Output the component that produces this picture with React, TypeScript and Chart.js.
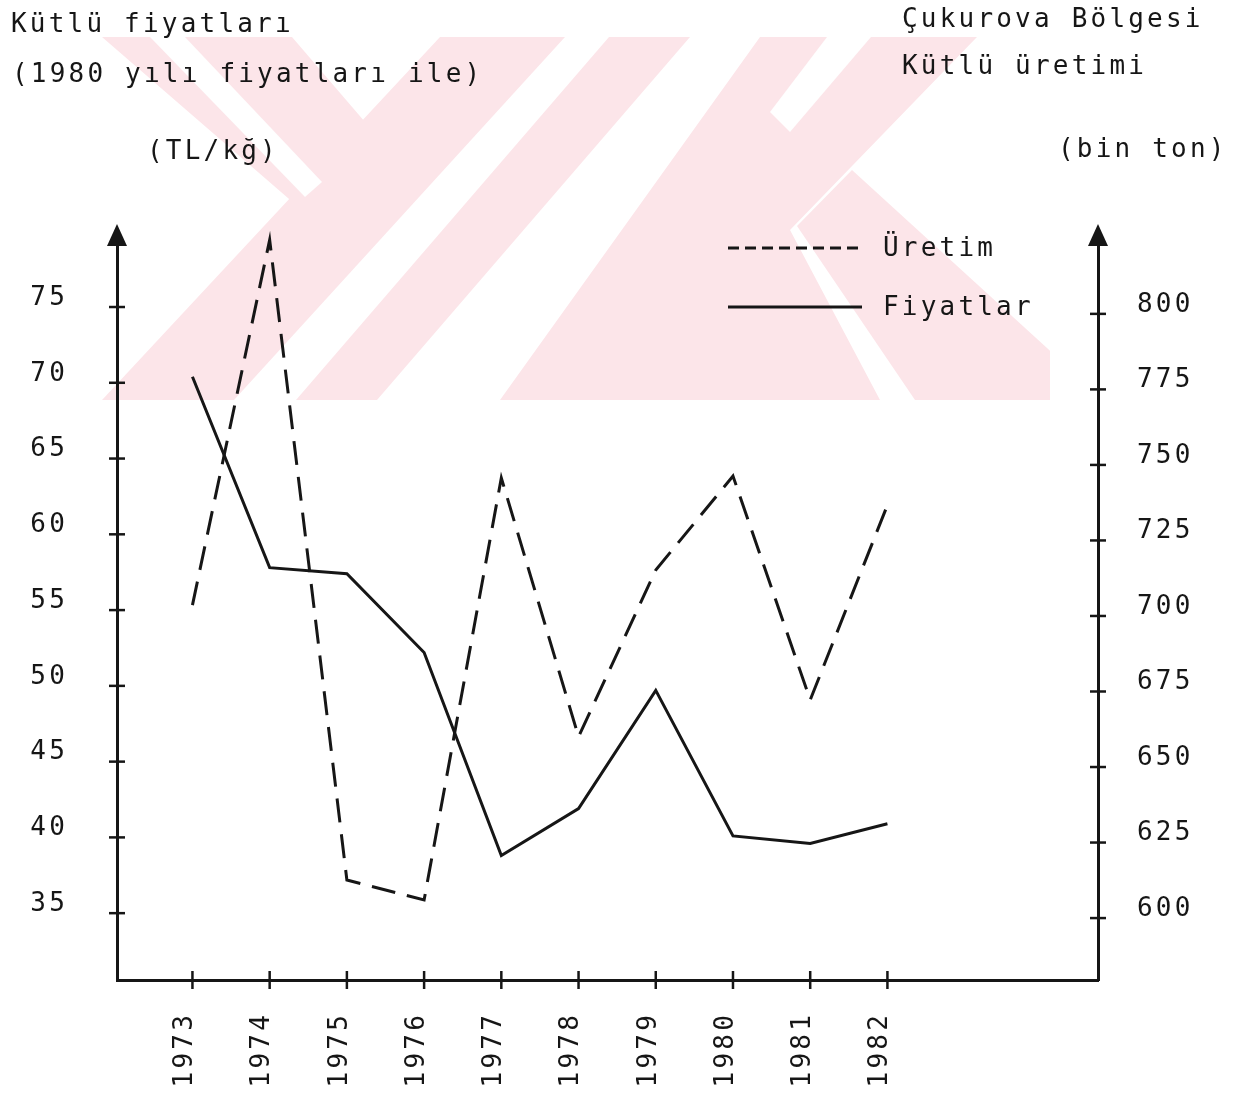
import React, { useEffect, useRef } from "react";
import { Chart, registerables } from "chart.js";

Chart.register(...registerables);

// ---- data ----
const years = [1973, 1974, 1975, 1976, 1977, 1978, 1979, 1980, 1981, 1982];
const fiyatlar = [70.4, 57.8, 57.4, 52.2, 38.8, 41.9, 49.7, 40.1, 39.6, 40.9]; // TL/kğ (left axis)
const uretim = [703.6, 824.5, 612.6, 606.0, 745.7, 660.0, 715.2, 746.3, 672.2, 736.7]; // bin ton (right axis)
const leftTicks = [35, 40, 45, 50, 55, 60, 65, 70, 75];
const rightTicks = [600, 625, 650, 675, 700, 725, 750, 775, 800];
const leftTitle = ["Kütlü fiyatları", "(1980 yılı fiyatları ile)", "(TL/kğ)"];
const rightTitle = ["Çukurova Bölgesi", "Kütlü üretimi", "(bin ton)"];
const seriesLabels = ["Üretim", "Fiyatlar"];

const INK = "#161616";
const FAMILY = "'DejaVu Sans Mono', 'Liberation Mono', monospace";
const FSIZE = 26;
const SPACING = "3.2px";

const watermark = {
  id: "watermark",
  beforeDraw(chart: any) {
    const ctx = chart.ctx;
    ctx.save();
    ctx.beginPath();
    ctx.rect(102, 37, 948, 363);
    ctx.clip();
    const fill = (p: number[][], color: string) => {
      ctx.fillStyle = color;
      ctx.beginPath();
      p.forEach(([x, y], i) => (i ? ctx.lineTo(x, y) : ctx.moveTo(x, y)));
      ctx.closePath();
      ctx.fill();
    };
    const PINK = "#fce5e9";
    const WHITE = "#ffffff";
    fill([[102, 37], [292, 37], [365, 122], [296, 205]], PINK);
    fill([[102, 400], [234, 400], [565, 37], [440, 37]], PINK);
    fill([[296, 400], [377, 400], [690, 37], [609, 37]], PINK);
    fill([[500, 400], [880, 400], [790, 230], [977, 37], [760, 37]], PINK);
    fill([[797, 226], [852, 170], [1060, 360], [1060, 400], [915, 400]], PINK);
    fill([[150, 37], [185, 37], [322, 182], [305, 197]], WHITE);
    fill([[827, 37], [871, 37], [790, 132], [770, 112]], WHITE);
    ctx.restore();
    ctx.letterSpacing = SPACING;
  },
};

const decorations = {
  id: "decorations",
  afterDraw(chart: any) {
    const { ctx, scales, chartArea } = chart;
    ctx.save();
    ctx.strokeStyle = INK;
    ctx.fillStyle = INK;
    ctx.lineWidth = 2.5;
    ctx.setLineDash([]);
    const line = (x1: number, y1: number, x2: number, y2: number) => {
      ctx.beginPath();
      ctx.moveTo(x1, y1);
      ctx.lineTo(x2, y2);
      ctx.stroke();
    };
    // crossing tick marks
    for (const id of ["yL", "yR"]) {
      const s = scales[id];
      const x = id === "yL" ? chartArea.left : chartArea.right;
      s.ticks.forEach((t: any) => {
        const y = s.getPixelForValue(t.value);
        line(x - 8, y, x + 8, y);
      });
    }
    const sx = scales.x;
    sx.ticks.forEach((t: any) => {
      const x = sx.getPixelForValue(t.value);
      line(x, chartArea.bottom - 9, x, chartArea.bottom + 9);
    });
    // arrows on top of both y axes
    for (const x of [chartArea.left, chartArea.right]) {
      ctx.beginPath();
      ctx.moveTo(x, chartArea.top - 8);
      ctx.lineTo(x - 10, chartArea.top + 14);
      ctx.lineTo(x + 10, chartArea.top + 14);
      ctx.closePath();
      ctx.fill();
    }
    // legend
    const legendY = [248, 307];
    const baseY = [256, 315];
    chart.data.datasets.forEach((ds: any, i: number) => {
      ctx.lineWidth = 3;
      ctx.setLineDash(ds.borderDash && ds.borderDash.length ? [11, 6] : []);
      line(728, legendY[i], 862, legendY[i]);
      ctx.setLineDash([]);
      ctx.font = `${FSIZE}px ${FAMILY}`;
      ctx.letterSpacing = SPACING;
      ctx.textAlign = "left";
      ctx.textBaseline = "alphabetic";
      ctx.fillText(ds.label, 883, baseY[i]);
    });
    // titles
    ctx.font = `${FSIZE}px ${FAMILY}`;
    ctx.letterSpacing = SPACING;
    ctx.textAlign = "left";
    ctx.textBaseline = "alphabetic";
    const lx = [11, 12, 147];
    const ly = [32, 82, 159];
    leftTitle.forEach((t, i) => ctx.fillText(t, lx[i], ly[i]));
    const rx = [902, 902, 1058];
    const ry = [27, 74, 157];
    rightTitle.forEach((t, i) => ctx.fillText(t, rx[i], ry[i]));
    ctx.restore();
  },
};

export default function App() {
  const ref = useRef<HTMLCanvasElement | null>(null);

  useEffect(() => {
    if (!ref.current) return;
    const font = { family: FAMILY, size: FSIZE };
    const chart = new Chart(ref.current, {
      type: "line",
      data: {
        datasets: [
          {
            label: seriesLabels[0],
            data: years.map((y, i) => ({ x: y, y: uretim[i] })),
            yAxisID: "yR",
            borderColor: INK,
            borderWidth: 3,
            borderDash: [24, 12],
            pointRadius: 0,
            tension: 0,
            clip: 12,
          },
          {
            label: seriesLabels[1],
            data: years.map((y, i) => ({ x: y, y: fiyatlar[i] })),
            yAxisID: "yL",
            borderColor: INK,
            borderWidth: 3,
            pointRadius: 0,
            tension: 0,
            clip: 12,
          },
        ],
      },
      options: {
        responsive: false,
        maintainAspectRatio: false,
        animation: false,
        devicePixelRatio: 1,
        layout: { padding: { top: 232, left: 0, right: 0, bottom: 0 } },
        plugins: { legend: { display: false }, tooltip: { enabled: false }, title: { display: false } },
        scales: {
          x: {
            type: "linear",
            position: "bottom",
            min: 1972.023,
            max: 1984.727,
            afterBuildTicks: (s: any) => {
              s.ticks = years.map((v) => ({ value: v }));
            },
            afterFit: (s: any) => {
              s.height = 115;
            },
            grid: { display: false, drawTicks: false },
            border: { display: true, color: INK, width: 3 },
            ticks: {
              autoSkip: false,
              minRotation: 90,
              maxRotation: 90,
              padding: 32,
              labelOffset: -7,
              color: INK,
              font,
              callback: (v: any) => String(v),
            },
          },
          yL: {
            type: "linear",
            position: "left",
            min: 30.59,
            max: 79.95,
            afterBuildTicks: (s: any) => {
              s.ticks = leftTicks.map((v) => ({ value: v }));
            },
            afterFit: (s: any) => {
              s.width = 117;
            },
            grid: { display: false, drawTicks: false },
            border: { display: true, color: INK, width: 3 },
            ticks: { padding: 49, labelOffset: -9, color: INK, font, callback: (v: any) => String(v) },
          },
          yR: {
            type: "linear",
            position: "right",
            min: 579.5,
            max: 827.1,
            afterBuildTicks: (s: any) => {
              s.ticks = rightTicks.map((v) => ({ value: v }));
            },
            afterFit: (s: any) => {
              s.width = 153;
            },
            grid: { display: false, drawTicks: false },
            border: { display: true, color: INK, width: 3 },
            ticks: { padding: 39, labelOffset: -9, color: INK, font, callback: (v: any) => String(v) },
          },
        },
      },
      plugins: [watermark, decorations],
    });
    return () => chart.destroy();
  }, []);

  return (
    <div style={{ position: "fixed", left: 0, top: 0, width: 1251, height: 1095, background: "#fff" }}>
      <canvas ref={ref} width={1251} height={1095} style={{ display: "block", width: 1251, height: 1095 }} />
    </div>
  );
}
